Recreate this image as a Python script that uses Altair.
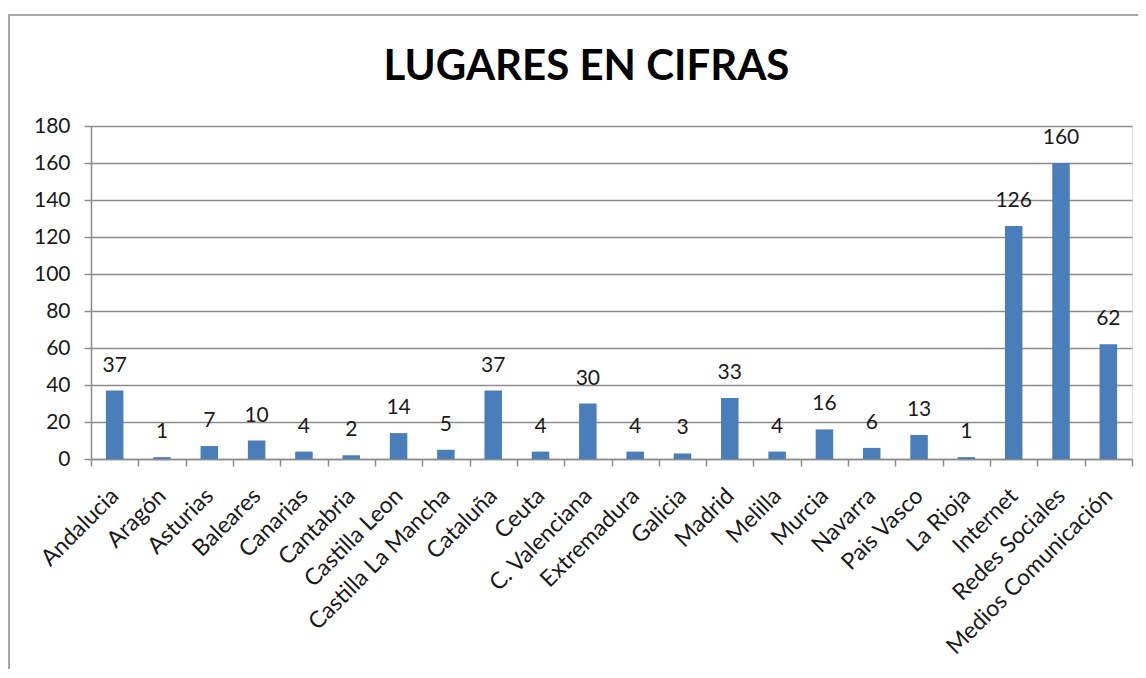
import altair as alt
import pandas as pd

categories = ["Andalucia", "Aragón", "Asturias", "Baleares", "Canarias", "Cantabria",
              "Castilla Leon", "Castilla La Mancha", "Cataluña", "Ceuta", "C. Valenciana",
              "Extremadura", "Galicia", "Madrid", "Melilla", "Murcia", "Navarra",
              "Pais Vasco", "La Rioja", "Internet", "Redes Sociales", "Medios Comunicación"]
values = [37, 1, 7, 10, 4, 2, 14, 5, 37, 4, 30, 4, 3, 33, 4, 16, 6, 13, 1, 126, 160, 62]

df = pd.DataFrame({"lugar": categories, "n": values})

FONT = "Lato"
GRAY = "#8c8c8c"
W, H = 1041, 333

x = alt.X("lugar:N", sort=categories, title=None,
          scale=alt.Scale(paddingInner=0, paddingOuter=0),
          axis=alt.Axis(labelAngle=-45, labelAlign="right", labelBaseline="middle",
                        labelPadding=26, labelFontSize=23, labelFont=FONT, labelColor="#1a1a1a",
                        labelLimit=0, tickBand="extent", tickSize=7, tickColor=GRAY, tickWidth=1.5,
                        domainColor=GRAY, domainWidth=1.5, grid=False, labelOverlap=False))
y = alt.Y("n:Q", title=None,
          scale=alt.Scale(domain=[0, 180], nice=False),
          axis=alt.Axis(values=list(range(0, 181, 20)), labelFontSize=21, labelFont=FONT,
                        labelColor="#1a1a1a", labelPadding=14, tickSize=7, tickColor=GRAY,
                        tickWidth=1.5, domainColor=GRAY, domainWidth=1.5,
                        gridColor=GRAY, gridWidth=1.5, gridOpacity=1))

bars = alt.Chart(df).mark_bar(color="#4a7ebb", width=alt.RelativeBandSize(0.37)).encode(x=x, y=y)
labels = alt.Chart(df).mark_text(dy=-25, fontSize=21, font=FONT, color="#1a1a1a").encode(
    x=x, y=y, text="n:Q")

frame = alt.Chart(pd.DataFrame({"a": [0]})).mark_rect(
    fill=None, stroke="#a6a6a6", strokeWidth=2).encode(
    x=alt.value(-82), x2=alt.value(W + 60), y=alt.value(-111), y2=alt.value(H + 300))

chart = alt.layer(frame, bars, labels).properties(
    width=W, height=H,
    title=alt.TitleParams("LUGARES EN CIFRAS", font=FONT, fontSize=42, fontWeight="bold",
                          color="#000000", anchor="middle", frame="group", dx=-25,
                          baseline="alphabetic", offset=-108),
    autosize=alt.AutoSizeParams(type="none"),
    padding={"left": 83, "top": 118, "right": 6, "bottom": 210},
).configure_view(stroke=None).configure(background="white")

chart.save("out.html", embed_options={"renderer": "svg", "actions": False})
